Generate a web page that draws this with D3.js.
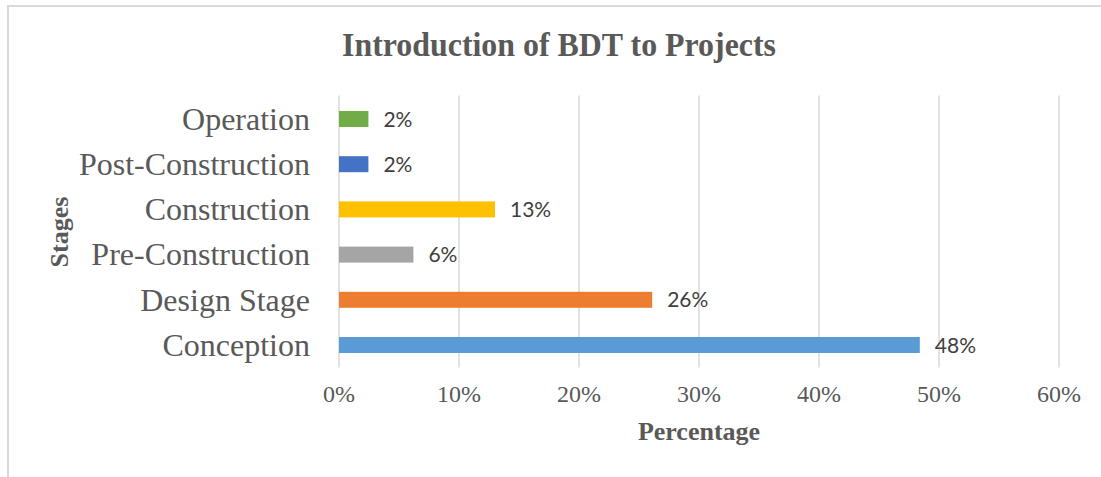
<!DOCTYPE html>
<html lang="en">
  <head>
    <meta charset="UTF-8" />
    <title>Introduction of BDT to Projects</title>
    <script src="https://d3js.org/d3.v7.min.js"></script>
    <style>
      body { margin: 0; background: #fff; }
    </style>
  </head>
  <body>
    <div id="chart"></div>
    <script>
      // stages listed bottom to top, as in the chart
      const stages = [
        "Conception",
        "Design Stage",
        "Pre-Construction",
        "Construction",
        "Post-Construction",
        "Operation",
      ];
      const shares = [0.484, 0.261, 0.062, 0.13, 0.0245, 0.0245];
      const barColors = ["#5B9BD5", "#ED7D31", "#A5A5A5", "#FFC000", "#4472C4", "#70AD47"];
      const xTicks = [0, 0.1, 0.2, 0.3, 0.4, 0.5, 0.6];

      const width = 1101;
      const height = 477;
      const plot = { left: 339, right: 1059, top: 96.4, bottom: 367.6 };
      const serif = "'Liberation Serif', 'Times New Roman', serif";
      const grey = "#595959";

      const data = stages.map((s, i) => ({ stage: s, value: shares[i], color: barColors[i] }));

      const svg = d3
        .select("#chart")
        .append("svg")
        .attr("width", width)
        .attr("height", height);

      // chart border (left + top visible)
      svg
        .append("path")
        .attr("d", `M8,${height} V6 H${width}`)
        .attr("fill", "none")
        .attr("stroke", "#d9d9d9")
        .attr("stroke-width", 2);

      const x = d3.scaleLinear().domain([0, 0.6]).range([plot.left, plot.right]);
      const y = d3
        .scaleBand()
        .domain(stages.slice().reverse())
        .range([plot.top, plot.bottom])
        .paddingInner(0.646)
        .paddingOuter(0.323);

      // gridlines
      svg
        .append("g")
        .selectAll("line")
        .data(xTicks)
        .join("line")
        .attr("x1", (d) => x(d))
        .attr("x2", (d) => x(d))
        .attr("y1", plot.top - 1)
        .attr("y2", plot.bottom)
        .attr("stroke", "#d9d9d9")
        .attr("stroke-width", 1.5);

      // x tick labels
      svg
        .append("g")
        .selectAll("text")
        .data(xTicks)
        .join("text")
        .attr("x", (d) => x(d))
        .attr("y", 402)
        .attr("text-anchor", "middle")
        .attr("font-family", serif)
        .attr("font-size", 24)
        .attr("fill", grey)
        .text(d3.format(".0%"));

      // category labels
      svg
        .append("g")
        .selectAll("text")
        .data(stages)
        .join("text")
        .attr("x", 310)
        .attr("y", (d) => y(d) + y.bandwidth() / 2)
        .attr("dy", "0.34em")
        .attr("text-anchor", "end")
        .attr("font-family", serif)
        .attr("font-size", 32)
        .attr("fill", grey)
        .text((d) => d);

      // bars
      svg
        .append("g")
        .selectAll("rect")
        .data(data)
        .join("rect")
        .attr("x", x(0))
        .attr("y", (d) => y(d.stage))
        .attr("width", (d) => x(d.value) - x(0))
        .attr("height", y.bandwidth())
        .attr("fill", (d) => d.color);

      // value labels
      svg
        .append("g")
        .selectAll("text")
        .data(data)
        .join("text")
        .attr("x", (d) => x(d.value) + 15)
        .attr("y", (d) => y(d.stage) + y.bandwidth() / 2)
        .attr("dy", "0.36em")
        .attr("font-family", "Lato, 'Open Sans', sans-serif")
        .attr("font-size", 21)
        .attr("fill", "#404040")
        .text((d) => d3.format(".0%")(d.value));

      // title
      svg
        .append("text")
        .attr("x", 559)
        .attr("y", 56)
        .attr("text-anchor", "middle")
        .attr("font-family", serif)
        .attr("font-weight", "bold")
        .attr("font-size", 33)
        .attr("textLength", 434)
        .attr("lengthAdjust", "spacingAndGlyphs")
        .attr("fill", grey)
        .text("Introduction of BDT to Projects");

      // axis titles
      svg
        .append("text")
        .attr("x", (plot.left + plot.right) / 2)
        .attr("y", 440)
        .attr("text-anchor", "middle")
        .attr("font-family", serif)
        .attr("font-weight", "bold")
        .attr("font-size", 26)
        .attr("fill", grey)
        .text("Percentage");

      svg
        .append("text")
        .attr("transform", `translate(68, ${(plot.top + plot.bottom) / 2}) rotate(-90)`)
        .attr("text-anchor", "middle")
        .attr("font-family", serif)
        .attr("font-weight", "bold")
        .attr("font-size", 26)
        .attr("fill", grey)
        .text("Stages");
    </script>
  </body>
</html>
